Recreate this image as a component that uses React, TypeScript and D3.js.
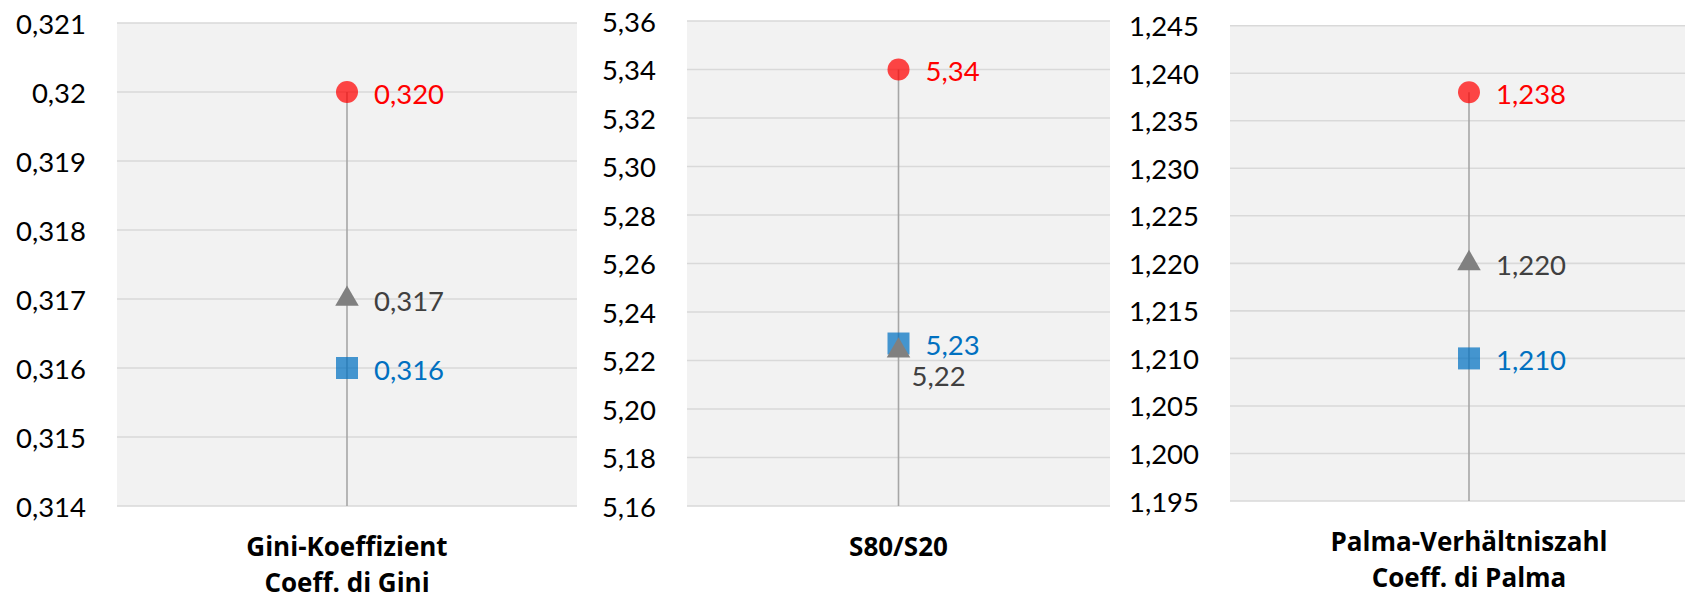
// App.tsx
import React, { useRef, useEffect } from 'react';
import * as d3 from 'd3';

// category captions (one array per panel, one entry per line)
const categories: string[][] = [
    ['Gini-Koeffizient', 'Coeff. di Gini'],
    ['S80/S20'],
    ['Palma-Verhältniszahl', 'Coeff. di Palma'],
];

// series values per panel
const circleValues = [0.320, 5.34, 1.238];
const triangleValues = [0.317, 5.224, 1.220];
const squareValues = [0.316, 5.227, 1.210];

// data labels as printed
const circleLabels = ['0,320', '5,34', '1,238'];
const triangleLabels = ['0,317', '5,22', '1,220'];
const squareLabels = ['0,316', '5,23', '1,210'];

// y axis ranges and tick labels per panel
const yDomains: [number, number][] = [
    [0.314, 0.321],
    [5.16, 5.36],
    [1.195, 1.245],
];
const yTickLabels: string[][] = [
    ['0,314', '0,315', '0,316', '0,317', '0,318', '0,319', '0,32', '0,321'],
    ['5,16', '5,18', '5,20', '5,22', '5,24', '5,26', '5,28', '5,30', '5,32', '5,34', '5,36'],
    ['1,195', '1,200', '1,205', '1,210', '1,215', '1,220', '1,225', '1,230', '1,235', '1,240', '1,245'],
];

const WIDTH = 1685;
const HEIGHT = 599;
const FONT = 'Lato, "Noto Sans", sans-serif';
const CAPTION_FONT = '"Open Sans", "Noto Sans", sans-serif';

// plot area of each panel in pixels
const panels = [
    { x0: 117, x1: 577, y0: 23, y1: 506 },
    { x0: 687, x1: 1110, y0: 21, y1: 506 },
    { x0: 1230, x1: 1708, y0: 25.7, y1: 501 },
];

const App: React.FC = () => {
    const svgRef = useRef<SVGSVGElement | null>(null);

    useEffect(() => {
        const svg = d3.select(svgRef.current);
        svg.selectAll('*').remove();

        panels.forEach((p, i) => {
            const g = svg.append('g');
            const y = d3.scaleLinear().domain(yDomains[i]).range([p.y1, p.y0]);
            const x = d3.scaleBand().domain([categories[i][0]]).range([p.x0, p.x1]);
            const cx = (x(categories[i][0]) as number) + x.bandwidth() / 2;

            // plot background
            g.append('rect')
                .attr('x', p.x0)
                .attr('y', p.y0)
                .attr('width', p.x1 - p.x0)
                .attr('height', p.y1 - p.y0)
                .attr('fill', '#f2f2f2');

            const ticks = yTickLabels[i].map(t => ({ label: t, value: +t.replace(',', '.') }));

            // gridlines
            g.selectAll('line.grid')
                .data(ticks)
                .enter()
                .append('line')
                .attr('class', 'grid')
                .attr('x1', p.x0)
                .attr('x2', p.x1)
                .attr('y1', d => y(d.value))
                .attr('y2', d => y(d.value))
                .attr('stroke', '#d9d9d9')
                .attr('stroke-width', 1.6);

            // tick labels
            g.selectAll('text.tick')
                .data(ticks)
                .enter()
                .append('text')
                .attr('class', 'tick')
                .attr('x', p.x0 - 31)
                .attr('y', d => y(d.value))
                .attr('text-anchor', 'end')
                .attr('dominant-baseline', 'central')
                .attr('font-family', FONT)
                .attr('font-size', 27.5)
                .attr('fill', '#000')
                .text(d => d.label);

            // stem from highest value down to axis minimum
            const top = Math.max(circleValues[i], triangleValues[i], squareValues[i]);
            g.append('line')
                .attr('x1', cx)
                .attr('x2', cx)
                .attr('y1', y(top))
                .attr('y2', y(yDomains[i][0]))
                .attr('stroke', '#a6a6a6')
                .attr('stroke-width', 1.6);

            // square marker
            const sq = 22;
            g.append('rect')
                .attr('x', cx - sq / 2)
                .attr('y', y(squareValues[i]) - sq / 2)
                .attr('width', sq)
                .attr('height', sq)
                .attr('fill', '#0070c0')
                .attr('fill-opacity', 0.72);

            // triangle marker
            const tri = d3.symbol().type(d3.symbolTriangle).size(240);
            g.append('path')
                .attr('d', tri() as string)
                .attr('transform', `translate(${cx},${y(triangleValues[i])})`)
                .attr('fill', '#808080');

            // circle marker
            g.append('circle')
                .attr('cx', cx)
                .attr('cy', y(circleValues[i]))
                .attr('r', 11)
                .attr('fill', '#ff0000')
                .attr('fill-opacity', 0.72);

            // data labels
            const addLabel = (v: number, text: string, color: string, dx: number, dy: number) => {
                g.append('text')
                    .attr('x', cx + dx)
                    .attr('y', y(v) + dy)
                    .attr('dominant-baseline', 'central')
                    .attr('font-family', FONT)
                    .attr('font-size', 27.5)
                    .attr('fill', color)
                    .text(text);
            };
            addLabel(circleValues[i], circleLabels[i], '#ff0000', 27, 1);
            addLabel(squareValues[i], squareLabels[i], '#0070c0', 27, 1);
            if (i === 1) {
                addLabel(triangleValues[i], triangleLabels[i], '#404040', 13, 25);
            } else {
                addLabel(triangleValues[i], triangleLabels[i], '#404040', 27, 1);
            }

            // category caption
            categories[i].forEach((line, k) => {
                g.append('text')
                    .attr('x', cx)
                    .attr('y', p.y1 + 50 + k * 36)
                    .attr('text-anchor', 'middle')
                    .attr('font-family', CAPTION_FONT)
                    .attr('font-weight', 'bold')
                    .attr('font-size', 26)
                    .attr('fill', '#000')
                    .text(line);
            });
        });
    }, []);

    return (
        <div style={{ position: 'absolute', left: 0, top: 0 }}>
            <svg ref={svgRef} width={WIDTH} height={HEIGHT} style={{ display: 'block', background: '#fff' }}></svg>
        </div>
    );
};

export default App;
